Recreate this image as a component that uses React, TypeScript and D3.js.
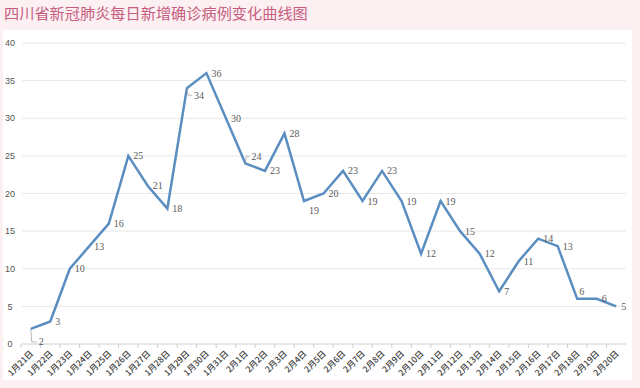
import React from 'react'
import * as d3 from 'd3'

const dates = [
  '1月21日', '1月22日', '1月23日', '1月24日', '1月25日', '1月26日', '1月27日', '1月28日',
  '1月29日', '1月30日', '1月31日', '2月1日', '2月2日', '2月3日', '2月4日', '2月5日',
  '2月6日', '2月7日', '2月8日', '2月9日', '2月10日', '2月11日', '2月12日', '2月13日',
  '2月14日', '2月15日', '2月16日', '2月17日', '2月18日', '2月19日', '2月20日'
]
const newCases = [
  2, 3, 10, 13, 16, 25, 21, 18, 34, 36, 30, 24, 23, 28, 19, 20,
  23, 19, 23, 19, 12, 19, 15, 12, 7, 11, 14, 13, 6, 6, 5
]
const yTicks = [0, 5, 10, 15, 20, 25, 30, 35, 40]

const title = '四川省新冠肺炎每日新增确诊病例变化曲线图'

// label nudges for the few labels that sit off the default spot
const labelNudge: Record<number, { dx: number; dy: number; leader?: boolean }> = {
  0: { dx: 8, dy: 13, leader: true },
  8: { dx: 7, dy: 7, leader: true },
  11: { dx: 6, dy: -7, leader: true },
  14: { dx: 5, dy: 9 },
  28: { dx: 2, dy: -7 }
}

const W = 640
const H = 388
const margin = { top: 43, right: 14, bottom: 44, left: 21 }

export default function App() {
  const innerW = W - margin.left - margin.right
  const innerH = H - margin.top - margin.bottom

  const x = d3.scaleBand<string>().domain(dates).range([margin.left, margin.left + innerW])
  const y = d3.scaleLinear().domain([0, 40]).range([margin.top + innerH, margin.top])
  const cx = (d: string) => (x(d) ?? 0) + x.bandwidth() / 2

  const line = d3.line<number>()
    .x((_, i) => cx(dates[i]))
    .y(v => y(v))

  const bottom = y(0)

  return (
    <svg width={W} height={H} style={{ position: 'absolute', left: 0, top: 0 }}>
      <rect x={0} y={0} width={W} height={H} fill="#fcf0f3" />
      <rect x={3} y={30} width={629} height={350} fill="#ffffff" />
      <text x={4} y={19} fontFamily="Noto Sans CJK SC" fontSize={15.2} fill="#c65d7e">{title}</text>

      {/* grid */}
      {yTicks.map(t => (
        <g key={t}>
          <line x1={margin.left + 1} x2={margin.left + innerW} y1={y(t)} y2={y(t)}
            stroke={t === 0 ? '#d0d0d0' : '#e8e8e8'} strokeWidth={1} />
          <text x={10} y={y(t)} dy="0.35em" textAnchor="middle" fontFamily="Liberation Sans, Arial"
            fontSize={9} fill="#555">{t}</text>
        </g>
      ))}

      {/* x ticks */}
      {dates.map((d, i) => (
        <line key={'t' + i} x1={x(d)} x2={x(d)} y1={bottom} y2={bottom + 4} stroke="#d0d0d0" />
      ))}
      {dates.map(d => (
        <text key={d} transform={`translate(${cx(d) + 1},${bottom + 8}) rotate(-45)`}
          textAnchor="end" dy="0.35em" fontFamily="Noto Sans CJK SC" fontWeight={500}
          fontSize={8.5} fill="#3c3c3c">{d}</text>
      ))}

      <path d={line(newCases) ?? ''} fill="none" stroke="#5b8ec0" strokeWidth={2.5} strokeLinejoin="miter" />

      {/* data labels */}
      {newCases.map((v, i) => {
        const n = labelNudge[i] ?? { dx: 5, dy: 0 }
        const px = cx(dates[i])
        const py = y(v)
        return (
          <g key={'l' + i}>
            {n.leader && (
              <polyline points={`${px},${py} ${px + 1},${py + n.dy} ${px + n.dx - 2},${py + n.dy}`}
                fill="none" stroke="#999" strokeWidth={0.7} />
            )}
            <text x={px + n.dx} y={py + n.dy} dy="0.35em" fontFamily="Liberation Serif, Times New Roman"
              fontSize={10} fill="#5a5a5a">{v}</text>
          </g>
        )
      })}
    </svg>
  )
}
